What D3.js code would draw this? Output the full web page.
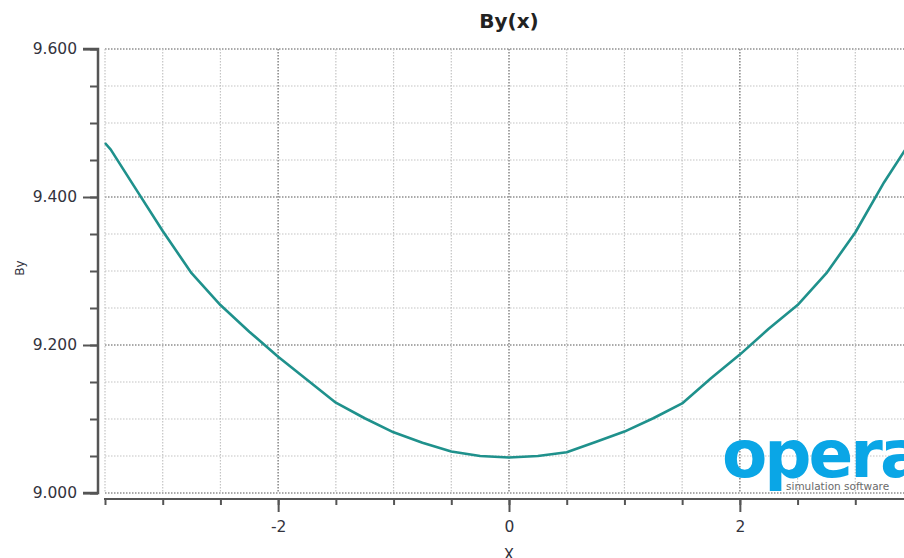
<!DOCTYPE html>
<html>
<head>
<meta charset="utf-8">
<script src="https://cdn.jsdelivr.net/npm/d3@7"></script>
<style>
  html, body { margin: 0; padding: 0; background: #fff; }
  svg { display: block; }
</style>
</head>
<body>
<svg id="chart" width="904" height="558"></svg>
<script>
// Field profile By along x
const xPos = [-3.5, -3.45, -3.25, -3, -2.75, -2.5, -2.25, -2, -1.75, -1.5, -1.25, -1, -0.75, -0.5, -0.25,
              0, 0.25, 0.5, 0.75, 1, 1.25, 1.5, 1.75, 2, 2.25, 2.5, 2.75, 3, 3.25, 3.5];
const byValues = [9.473, 9.464, 9.415, 9.354, 9.297, 9.254, 9.218, 9.184, 9.153, 9.122, 9.101, 9.082, 9.068, 9.056, 9.050,
                  9.048, 9.050, 9.055, 9.069, 9.083, 9.101, 9.121, 9.155, 9.187, 9.222, 9.254, 9.297, 9.352, 9.420, 9.480];
const yMajorTicks = [9.0, 9.2, 9.4, 9.6];
const xMajorTicks = [-2, 0, 2];

const svg = d3.select("#chart");
const W = 904, H = 558;
const plot = { left: 105, right: 904, top: 49, bottom: 493 };

const x = d3.scaleLinear().domain([-3.5, 3.5]).range([105, 913]);
const y = d3.scaleLinear().domain([9.0, 9.6]).range([493, 49]);

const textColor = "#33333d";
const font = "DejaVu Sans, Verdana, sans-serif";

// gridlines
const yMinor = d3.range(0, 13).map(i => +(9.0 + i * 0.05).toFixed(2));
const xMinor = d3.range(-7, 8).map(i => i * 0.5);
const isMajorY = v => yMajorTicks.some(t => Math.abs(t - v) < 1e-6);
const isMajorX = v => xMajorTicks.some(t => Math.abs(t - v) < 1e-6);

const grid = svg.append("g");
grid.selectAll("line.hy").data(yMinor).join("line")
  .attr("x1", plot.left).attr("x2", plot.right)
  .attr("y1", d => y(d)).attr("y2", d => y(d))
  .attr("stroke", d => isMajorY(d) ? "#8e8e8e" : "#c4c4c4")
  .attr("stroke-width", d => isMajorY(d) ? 1.6 : 1.2)
  .attr("stroke-dasharray", "1.5,1.5");
grid.selectAll("line.vx").data(xMinor).join("line")
  .attr("y1", plot.top).attr("y2", plot.bottom)
  .attr("x1", d => x(d)).attr("x2", d => x(d))
  .attr("stroke", d => isMajorX(d) ? "#8e8e8e" : "#c4c4c4")
  .attr("stroke-width", d => isMajorX(d) ? 1.6 : 1.2)
  .attr("stroke-dasharray", "1.5,1.5");

// logo
const logo = svg.append("g");
logo.append("text")
  .attr("x", 722).attr("y", 477)
  .attr("font-family", "DejaVu Sans, sans-serif")
  .attr("font-weight", "bold")
  .attr("font-size", 66)
  .attr("letter-spacing", -3)
  .attr("fill", "#0aa6e6")
  .text("opera");
logo.append("text")
  .attr("x", 786).attr("y", 490)
  .attr("font-family", "DejaVu Sans, sans-serif")
  .attr("font-size", 10.5)
  .attr("fill", "#6a6a6a")
  .text("simulation software");

// curve
svg.append("clipPath").attr("id", "plotClip")
  .append("rect").attr("x", plot.left - 2).attr("y", plot.top - 2)
  .attr("width", plot.right - plot.left + 4).attr("height", plot.bottom - plot.top + 4);

const line = d3.line().x((d, i) => x(xPos[i])).y(d => y(d));
svg.append("path")
  .attr("clip-path", "url(#plotClip)")
  .attr("d", line(byValues))
  .attr("fill", "none")
  .attr("stroke", "#1f918c")
  .attr("stroke-width", 2.6)
  .attr("stroke-linejoin", "round");

// y axis
const yAxisMinor = d3.axisLeft(y).tickValues(yMinor).tickSize(8).tickFormat("");
const gyMinor = svg.append("g").attr("transform", "translate(98,0)").call(yAxisMinor);
gyMinor.select(".domain").remove();
gyMinor.selectAll(".tick line").attr("stroke", "#555").attr("stroke-width", 2);

const yAxis = d3.axisLeft(y).tickValues(yMajorTicks).tickSize(15).tickPadding(6).tickFormat(d3.format(".3f"));
const gy = svg.append("g").attr("transform", "translate(98,0)").call(yAxis);
gy.select(".domain").attr("stroke", "#555").attr("stroke-width", 2.5)
  .attr("d", `M-15,${y(9.6)}H0V${y(9.0)}H-15`);
gy.selectAll(".tick line").attr("stroke", "#555").attr("stroke-width", 2);
gy.selectAll(".tick text").attr("fill", textColor)
  .attr("font-family", font).attr("font-size", 15.5);

// x axis
const axisY = 499;
const xAxisMinor = d3.axisBottom(x).tickValues(xMinor).tickSize(6).tickFormat("");
const gxMinor = svg.append("g").attr("transform", `translate(0,${axisY})`).call(xAxisMinor);
gxMinor.select(".domain").remove();
gxMinor.selectAll(".tick line").attr("stroke", "#555").attr("stroke-width", 2);

const xAxis = d3.axisBottom(x).tickValues(xMajorTicks).tickSize(13).tickPadding(9).tickFormat(d => String(d));
const gx = svg.append("g").attr("transform", `translate(0,${axisY})`).call(xAxis);
gx.select(".domain").attr("stroke", "#555").attr("stroke-width", 2)
  .attr("d", `M${plot.left - 1},0H${W}`);
gx.selectAll(".tick line").attr("stroke", "#555").attr("stroke-width", 2);
gx.selectAll(".tick text").attr("fill", textColor)
  .attr("font-family", font).attr("font-size", 15.5);

// titles
svg.append("text")
  .attr("x", 509).attr("y", 28)
  .attr("text-anchor", "middle")
  .attr("font-family", font)
  .attr("font-weight", "bold")
  .attr("font-size", 20)
  .attr("fill", "#222")
  .text("By(x)");

svg.append("text")
  .attr("transform", "translate(24,268) rotate(-90)")
  .attr("text-anchor", "middle")
  .attr("font-family", font)
  .attr("font-size", 12)
  .attr("fill", textColor)
  .text("By");

svg.append("text")
  .attr("x", 509).attr("y", 560)
  .attr("text-anchor", "middle")
  .attr("font-family", font)
  .attr("font-size", 15)
  .attr("fill", textColor)
  .text("X");
</script>
</body>
</html>
